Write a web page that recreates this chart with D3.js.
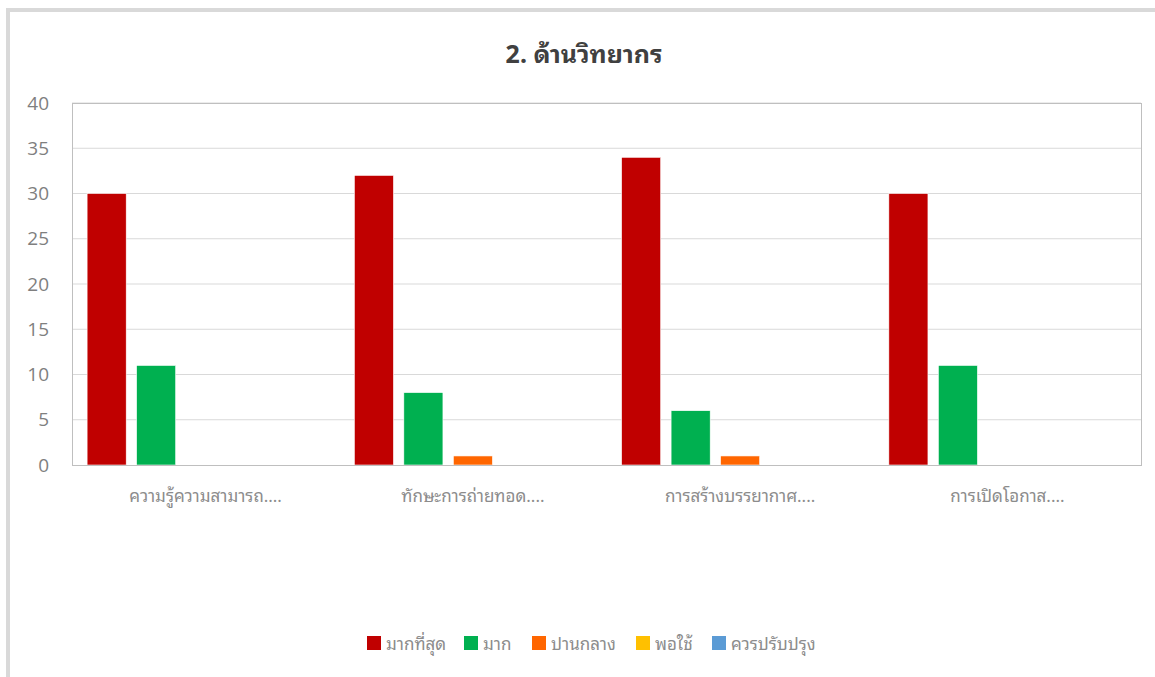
<!DOCTYPE html>
<html><head><meta charset="utf-8">
<script src="https://cdn.jsdelivr.net/npm/d3@7/dist/d3.min.js"></script>
<style>body{margin:0;background:#fff;} svg{display:block;}</style>
</head><body>
<script>
const title = "2. ด้านวิทยากร";
const categories = ["ความรู้ความสามารถ....", "ทักษะการถ่ายทอด....", "การสร้างบรรยากาศ....", "การเปิดโอกาส...."];
const seriesNames = ["มากที่สุด", "มาก", "ปานกลาง", "พอใช้", "ควรปรับปรุง"];
const seriesColors = ["#C00000", "#00B050", "#FF6600", "#FFC000", "#5B9BD5"];
const vMost = [30, 32, 34, 30];
const vMuch = [11, 8, 6, 11];
const vMid = [0, 1, 1, 0];
const vFair = [0, 0, 0, 0];
const vImprove = [0, 0, 0, 0];
const seriesValues = [vMost, vMuch, vMid, vFair, vImprove];
const yTicks = [0, 5, 10, 15, 20, 25, 30, 35, 40];

const W = 1155, H = 677;
const font = "'Noto Sans Thai Looped','Noto Looped Thai','Tahoma','Loma','Garuda','Noto Sans Thai','Noto Sans','DejaVu Sans',sans-serif";
const svg = d3.select("body").append("svg").attr("width", W).attr("height", H);

// frame
svg.append("line").attr("x1", 6).attr("x2", W).attr("y1", 10).attr("y2", 10).attr("stroke", "#d9d9d9").attr("stroke-width", 4);
svg.append("line").attr("x1", 8).attr("x2", 8).attr("y1", 8).attr("y2", H).attr("stroke", "#d9d9d9").attr("stroke-width", 4);

const L = 72, R = 1141, T = 103, B = 465;
const y = d3.scaleLinear().domain([0, 40]).range([B, T]);
const x0 = d3.scaleBand().domain(categories).range([L, R]).paddingInner(0.113).paddingOuter(0.0565);
const x1 = d3.scaleBand().domain(seriesNames).range([0, x0.bandwidth()]).paddingInner(0.21);

// gridlines
svg.append("g").selectAll("line").data(yTicks.filter(d => d > 0)).join("line")
  .attr("x1", L).attr("x2", R).attr("y1", d => y(d)).attr("y2", d => y(d))
  .attr("stroke", "#d9d9d9").attr("stroke-width", 1);

// plot border
svg.append("rect").attr("x", L + 0.5).attr("y", T + 0.5).attr("width", R - L).attr("height", B - T)
  .attr("fill", "none").attr("stroke", "#bfbfbf").attr("stroke-width", 1);

// y axis
const yAxis = d3.axisLeft(y).tickValues(yTicks).tickSize(0).tickPadding(23);
const gy = svg.append("g").attr("transform", `translate(${L},0)`).call(yAxis);
gy.select(".domain").remove();
gy.selectAll("text").attr("fill", "#7f7f7f").style("font-family", "'Open Sans','Liberation Sans',sans-serif").style("font-size", "19px").attr("text-anchor", "end");

// bars
const g = svg.append("g");
categories.forEach((c, i) => {
  seriesNames.forEach((s, j) => {
    const v = seriesValues[j][i];
    if (v <= 0) return;
    g.append("rect").attr("x", x0(c) + x1(s)).attr("y", y(v)).attr("width", x1.bandwidth()).attr("height", y(0) - y(v))
      .attr("fill", seriesColors[j]).attr("stroke", "#fff").attr("stroke-width", 0.6);
  });
});

// x axis
const xAxis = d3.axisBottom(x0).tickSize(0).tickPadding(25);
const gx = svg.append("g").attr("transform", `translate(0,${B})`).call(xAxis);
gx.select(".domain").attr("stroke", "#bfbfbf");
gx.selectAll("text").attr("fill", "#8c8c8c").style("font-family", font).style("font-size", "17px");

// title
svg.append("text").attr("x", 584).attr("y", 63).attr("text-anchor", "middle")
  .style("font-family", font).style("font-size", "25px").style("font-weight", "bold").attr("fill", "#404040").text(title);

// legend
const legendX = [367, 464, 532, 636, 712];
const lg = svg.append("g");
seriesNames.forEach((s, j) => {
  lg.append("rect").attr("x", legendX[j]).attr("y", 636).attr("width", 14).attr("height", 14).attr("fill", seriesColors[j]);
  lg.append("text").attr("x", legendX[j] + 19).attr("y", 650).text(s)
    .style("font-family", font).style("font-size", "17px").attr("fill", "#8c8c8c");
});
</script>
</body></html>
